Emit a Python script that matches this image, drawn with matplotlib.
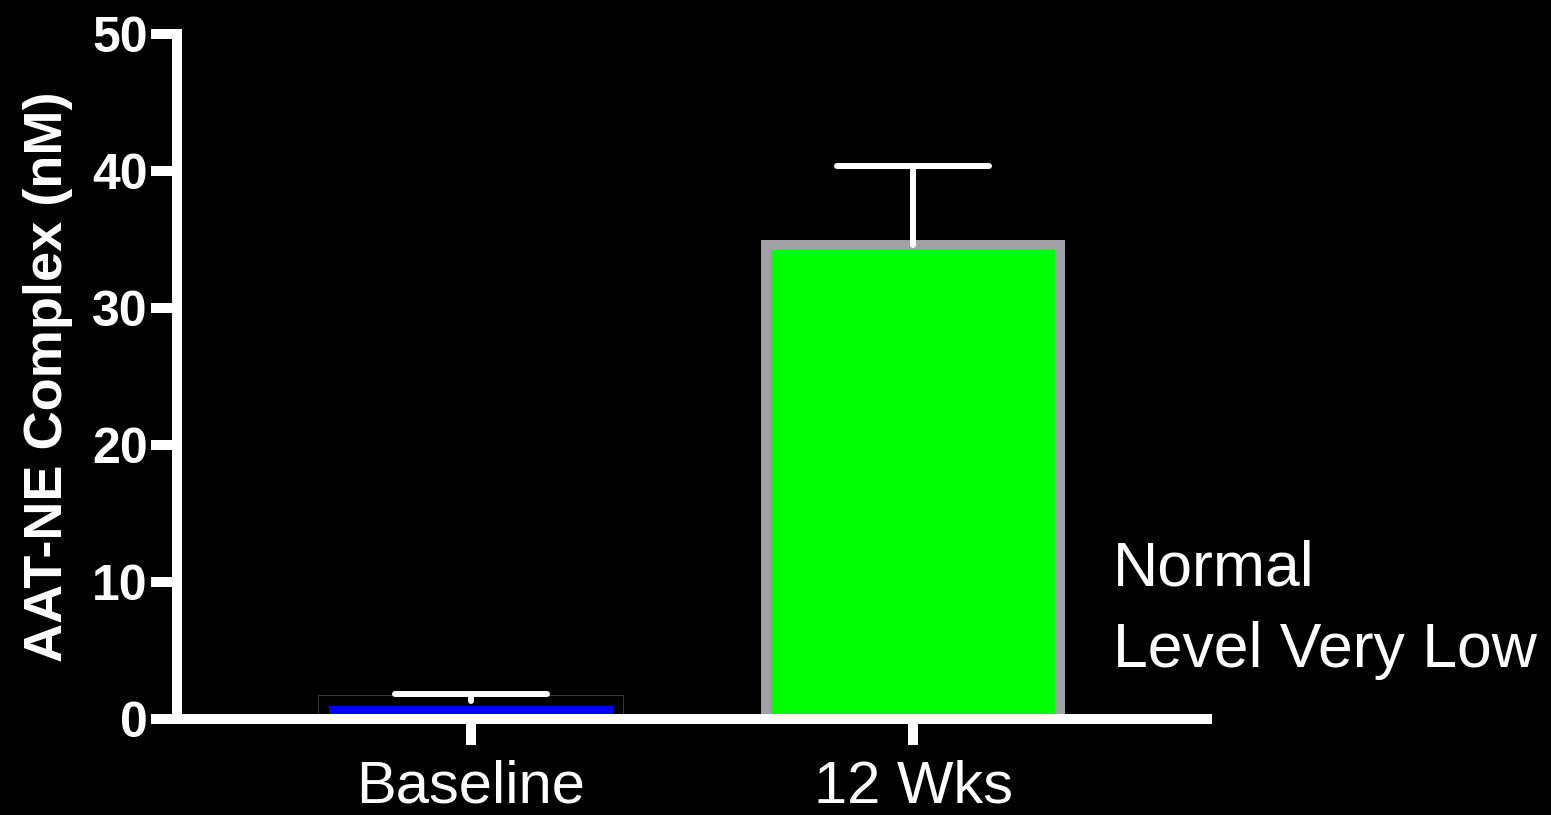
import matplotlib
matplotlib.use("Agg")
import matplotlib.pyplot as plt
import matplotlib.patheffects as pe

categories = ["Baseline", "12 Wks"]
means = [1.35, 34.6]
errors = [0.47, 5.8]
fill_colors = ["#0000ff", "#00ff00"]
edge_colors = ["#000000", "#a0a0a6"]
yticks = [0, 10, 20, 30, 40, 50]
ylabel = "AAT-NE Complex (nM)"
note_lines = ["Normal", "Level Very Low"]

W, H = 1551, 815
fig = plt.figure(figsize=(W / 100, H / 100), dpi=100, facecolor="black")
ax = fig.add_axes([177 / W, 1 - 719 / H, (1207 - 177) / W, (719 - 34) / H])
ax.set_facecolor("black")

x = list(range(len(categories)))
bar_width = 0.663
cap_half = 0.172
bars = ax.bar(x, means, width=bar_width, color=fill_colors, edgecolor=edge_colors,
              linewidth=7.2, zorder=2)
bars[0].set_path_effects([pe.Stroke(linewidth=8.6, foreground="#3a3a3a"), pe.Normal()])

tops = [m + e for m, e in zip(means, errors)]
ax.vlines(x, means, tops, colors="white", linewidth=4.3, zorder=3, capstyle="round")
ax.hlines(tops, [xi - cap_half for xi in x], [xi + cap_half for xi in x],
          colors="white", linewidth=4.3, zorder=3, capstyle="round")

ax.set_xlim(-0.665, 1.665)
ax.set_ylim(0, 50)
ax.set_yticks(yticks)
ax.set_xticks(x)
ax.set_xticklabels(categories, fontsize=43, color="white", family="Liberation Sans")
ax.set_yticklabels([str(t) for t in yticks], fontsize=36, color="white",
                   family="Liberation Sans", fontweight="bold")

for side in ["top", "right"]:
    ax.spines[side].set_visible(False)
for side in ["left", "bottom"]:
    ax.spines[side].set_color("white")
    ax.spines[side].set_linewidth(7.2)
    ax.spines[side].set_capstyle("projecting")

ax.tick_params(axis="both", colors="white", width=7.2, length=19)
ax.tick_params(axis="y", pad=2)
ax.tick_params(axis="x", pad=10)

ax.set_ylabel(ylabel, fontsize=39, fontweight="bold", color="white",
              family="Liberation Sans", labelpad=14)

fig.text(1113 / W, 1 - 585 / H, note_lines[0], fontsize=45, color="white",
         family="Liberation Sans", ha="left", va="baseline")
fig.text(1113 / W, 1 - 667 / H, note_lines[1], fontsize=45, color="white",
         family="Liberation Sans", ha="left", va="baseline")

fig.savefig("out.png", dpi=100, facecolor="black")
